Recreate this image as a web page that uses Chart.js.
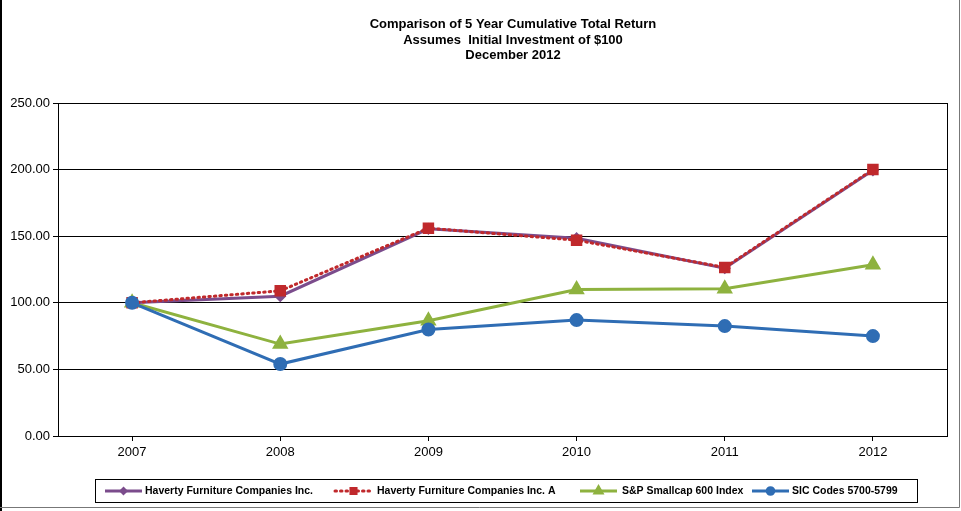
<!DOCTYPE html>
<html>
<head>
<meta charset="utf-8">
<script src="https://cdn.jsdelivr.net/npm/chart.js@4.4.0/dist/chart.umd.min.js"></script>
<style>
  html, body { margin: 0; padding: 0; background: #fff; }
  #wrap { width: 961px; height: 511px; position: relative; }
</style>
</head>
<body>
<div id="wrap"><canvas id="returnChart" width="961" height="511"></canvas></div>
<script>
const years = ['2007', '2008', '2009', '2010', '2011', '2012']

const havertyValues = [100, 105, 155.5, 148.5, 126, 199.5]
const havertyAValues = [100, 109, 156, 147, 126.5, 200]
const smallcapValues = [100, 69, 86.5, 110, 110.5, 128.5]
const sicValues = [100, 54, 80, 87, 82.5, 75]

const seriesNames = [
     'Haverty Furniture Companies Inc.',
     'Haverty Furniture Companies Inc. A',
     'S&P Smallcap 600 Index',
     'SIC Codes 5700-5799'
]

const titleLines = [
     'Comparison of 5 Year Cumulative Total Return',
     'Assumes  Initial Investment of $100',
     'December 2012'
]

const purple = '#7b4c8c'
const red = '#c0292c'
const green = '#8eb23f'
const blue = '#2f6db4'

const fontFamily = "'Liberation Sans', Arial, sans-serif"

Chart.defaults.font.family = fontFamily
Chart.defaults.color = '#000'

// draws the title, the framed legend, the right border of the plot and the picture frame
const decorations = {
     id: 'decorations',
     afterDraw(chart) {
          const ctx = chart.ctx
          const area = chart.chartArea
          ctx.save()

          // right side of the plot box
          ctx.strokeStyle = '#000'
          ctx.lineWidth = 1
          ctx.beginPath()
          ctx.moveTo(Math.round(area.right) + 0.5, area.top)
          ctx.lineTo(Math.round(area.right) + 0.5, area.bottom)
          ctx.stroke()

          // title
          ctx.fillStyle = '#000'
          ctx.font = 'bold 13px ' + fontFamily
          ctx.textAlign = 'center'
          ctx.textBaseline = 'middle'
          titleLines.forEach((line, i) => ctx.fillText(line, 513, 24.5 + i * 15.5))

          // legend box
          ctx.strokeStyle = '#000'
          ctx.strokeRect(95.5, 479.5, 822, 23)

          const sampleX = [105, 335, 580, 752]
          const textX = [145, 377, 622, 792]
          const y = 491
          ctx.font = 'bold 10.5px ' + fontFamily
          ctx.textAlign = 'left'
          chart.data.datasets.forEach((ds, i) => {
               ctx.strokeStyle = ds.borderColor
               ctx.lineWidth = 3
               ctx.setLineDash(ds.borderDash || [])
               ctx.lineCap = ds.borderDash ? 'round' : 'butt'
               ctx.beginPath()
               ctx.moveTo(sampleX[i], y)
               ctx.lineTo(sampleX[i] + 37, y)
               ctx.stroke()
               ctx.setLineDash([])
               Chart.helpers.drawPoint(ctx, {
                    pointStyle: ds.pointStyle,
                    radius: ds.pointRadius * 0.6,
                    borderWidth: 1
               }, sampleX[i] + 18.5, y)
               ctx.fillStyle = ds.pointBackgroundColor
               ctx.fill()
               ctx.fillStyle = '#000'
               ctx.fillText(seriesNames[i], textX[i], y + 0.5)
          })

          // picture frame
          ctx.strokeStyle = '#000'
          ctx.lineWidth = 2
          ctx.beginPath()
          ctx.moveTo(1, 0)
          ctx.lineTo(1, 511)
          ctx.stroke()
          ctx.strokeStyle = '#777'
          ctx.lineWidth = 1
          ctx.beginPath()
          ctx.moveTo(959.5, 0)
          ctx.lineTo(959.5, 507.5)
          ctx.lineTo(0, 507.5)
          ctx.stroke()
          ctx.restore()
     }
}

const ctx = document.getElementById('returnChart').getContext('2d')

new Chart(ctx, {
     type: 'line',
     data: {
          labels: years,
          datasets: [
               {
                    label: seriesNames[0],
                    data: havertyValues,
                    borderColor: purple,
                    backgroundColor: purple,
                    pointBackgroundColor: purple,
                    pointBorderColor: purple,
                    borderWidth: 3,
                    pointStyle: 'rectRot',
                    pointRadius: 4,
                    order: 2,
                    tension: 0
               },
               {
                    label: seriesNames[1],
                    data: havertyAValues,
                    borderColor: red,
                    backgroundColor: red,
                    pointBackgroundColor: red,
                    pointBorderColor: red,
                    borderWidth: 3,
                    borderDash: [1.5, 4],
                    borderCapStyle: 'round',
                    pointStyle: 'rect',
                    pointRadius: 6,
                    order: 1,
                    tension: 0
               },
               {
                    label: seriesNames[2],
                    data: smallcapValues,
                    borderColor: green,
                    backgroundColor: green,
                    pointBackgroundColor: green,
                    pointBorderColor: green,
                    borderWidth: 3,
                    pointStyle: 'triangle',
                    pointRadius: 6.5,
                    order: 3,
                    tension: 0
               },
               {
                    label: seriesNames[3],
                    data: sicValues,
                    borderColor: blue,
                    backgroundColor: blue,
                    pointBackgroundColor: blue,
                    pointBorderColor: blue,
                    borderWidth: 3,
                    pointStyle: 'circle',
                    pointRadius: 5.5,
                    order: 0,
                    tension: 0
               }
          ]
     },
     options: {
          responsive: false,
          animation: false,
          layout: {
               padding: { top: 103, right: 14, bottom: 45, left: 0 }
          },
          scales: {
               x: {
                    offset: true,
                    afterFit: s => { s.height = 30 },
                    grid: {
                         offset: false,
                         drawOnChartArea: false,
                         drawTicks: true,
                         tickLength: 5,
                         color: '#000'
                    },
                    border: { display: true, color: '#000', width: 1 },
                    ticks: {
                         padding: 4,
                         font: { size: 13 },
                         color: '#000'
                    }
               },
               y: {
                    min: 0,
                    max: 250,
                    afterFit: s => { s.width = 58 },
                    grid: {
                         color: '#000',
                         lineWidth: 1,
                         drawTicks: true,
                         tickLength: 5
                    },
                    border: { display: true, color: '#000', width: 1 },
                    ticks: {
                         stepSize: 50,
                         padding: 3,
                         font: { size: 13 },
                         color: '#000',
                         callback: v => v.toFixed(2)
                    }
               }
          },
          plugins: {
               legend: { display: false },
               title: { display: false },
               tooltip: { enabled: false }
          }
     },
     plugins: [decorations]
})
</script>
</body>
</html>
